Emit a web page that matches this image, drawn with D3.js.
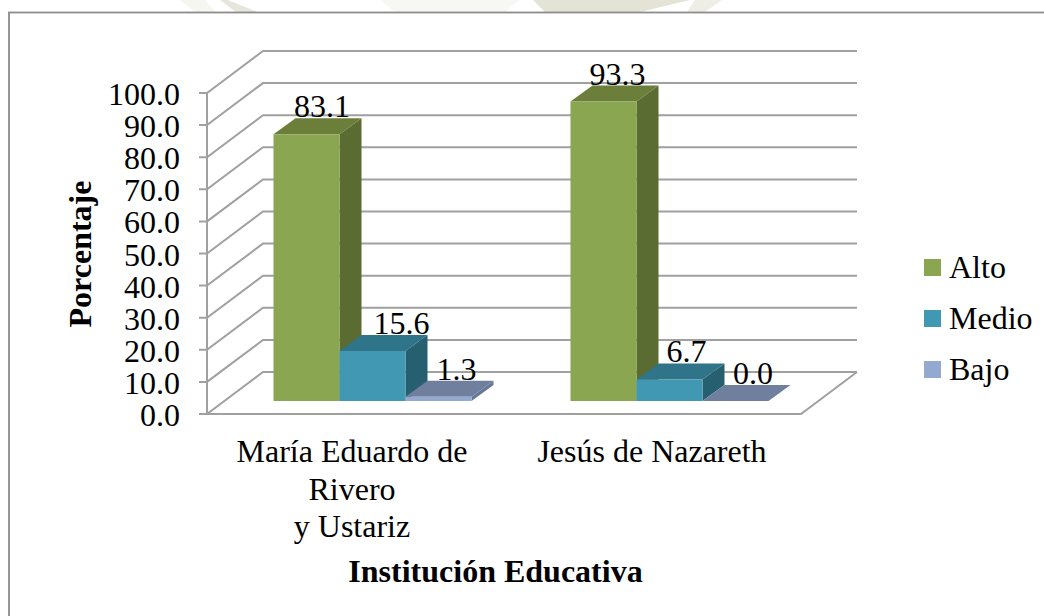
<!DOCTYPE html>
<html><head><meta charset="utf-8">
<script src="https://cdn.jsdelivr.net/npm/d3@7"></script>
<style>html,body{margin:0;padding:0;background:#fff}svg{display:block}text{font-family:"Liberation Serif",serif;fill:#000}</style>
</head><body><div id="c"></div>
<script>
const categories=[["María Eduardo de","Rivero","y Ustariz"],["Jesús de Nazareth"]];
const seriesNames=["Alto","Medio","Bajo"];
const alto=[83.1,93.3];
const medio=[15.6,6.7];
const bajo=[1.3,0.0];
const tickValues=[0,10,20,30,40,50,60,70,80,90,100];
const seriesValues=[alto,medio,bajo];
const front=["#8aa650","#4098b2","#94a9d0"];
const topC=["#6b7f3b","#2f7488","#707f9e"];
const side=["#5b6c32","#265f70","#66789a"];
const labelShift=[[15.5,29,18],[14,17,17.5]];
const catCenters=[352,652];

const W=1044,H=616,FS=32;
const svg=d3.select("#c").append("svg").attr("width",W).attr("height",H);

// faint watermark remnants above the chart frame
const wm=svg.append("g");
[["180,0 205,0 215,12 195,12","#f6f6f1"],["220,0 228,0 257,12 236,12","#e6e6dc"],
 ["380,0 520,0 505,12 395,12","#f7f7f3"],["533,0 690,0 640,12 545,12","#e4e4d6"],
 ["695,0 722,0 705,12 687,12","#eeeee6"]].forEach(p=>wm.append("polygon").attr("points",p[0]).attr("fill",p[1]));

svg.append("rect").attr("x",9).attr("y",12.5).attr("width",W+20).attr("height",H).attr("fill","#fff").attr("stroke","#8c8c8c").attr("stroke-width",1.8);

const y=d3.scaleLinear().domain([0,100]).range([414,93]);
const dx=56,dy=-42,gridStroke="#a0a0a0";
const g=svg.append("g").attr("fill","none").attr("stroke",gridStroke).attr("stroke-width",2);
tickValues.forEach(v=>{
  g.append("path").attr("d",d3.line()([[199,y(v)],[207,y(v)],[207+dx,y(v)+dy],[801+dx,y(v)+dy]]));
});
g.append("path").attr("d",d3.line()([[207,y(0)],[207,y(100)]]));
g.append("path").attr("d",d3.line()([[207,y(0)],[801,y(0)],[801+dx,y(0)+dy]]));

const x0=d3.scaleBand().domain(d3.range(categories.length)).range([224,818]).paddingInner(1/3).paddingOuter(1/6);
const x1=d3.scaleBand().domain(d3.range(seriesNames.length)).range([0,x0.bandwidth()]);
const base=401, ddx=22, ddy=-16;
const h=v=>y(0)-y(v);
const bars=svg.append("g");
const labels=[];
categories.forEach((c,ci)=>{
  seriesNames.forEach((s,si)=>{
    const v=seriesValues[si][ci];
    const l=x0(ci)+x1(si), r=l+x1.bandwidth(), t=base-h(v);
    const b=bars.append("g");
    const poly=(pts,f)=>b.append("polygon").attr("points",pts.map(p=>p.join(",")).join(" ")).attr("fill",f);
    poly([[r,base],[r+ddx,base+ddy],[r+ddx,t+ddy],[r,t]],side[si]);
    poly([[l,t],[r,t],[r+ddx,t+ddy],[l+ddx,t+ddy]],topC[si]);
    if(h(v)>0) poly([[l,base],[r,base],[r,t],[l,t]],front[si]);
    labels.push({v,x:l+x1.bandwidth()/2+labelShift[ci][si],y:t+ddy-1});
  });
});
svg.append("g").selectAll("text").data(labels).join("text")
  .attr("x",d=>d.x).attr("y",d=>d.y).attr("text-anchor","middle").attr("font-size",FS)
  .text(d=>d.v.toFixed(1));

svg.append("g").selectAll("text").data(tickValues).join("text")
  .attr("x",180).attr("y",d=>y(d)+12).attr("text-anchor","end").attr("font-size",FS)
  .text(d=>d.toFixed(1));

categories.forEach((c,ci)=>{
  c.forEach((t,i)=>svg.append("text").attr("x",catCenters[ci]).attr("y",462+i*37.5)
    .attr("text-anchor","middle").attr("font-size",FS).text(t));
});
svg.append("text").attr("x",495.5).attr("y",582).attr("text-anchor","middle").attr("font-size",FS).attr("font-weight","bold").text("Institución Educativa");
svg.append("text").attr("transform","translate(91,254) rotate(-90)").attr("text-anchor","middle").attr("font-size",FS).attr("font-weight","bold").text("Porcentaje");

seriesNames.forEach((s,i)=>{
  const yy=259+i*51;
  svg.append("rect").attr("x",924).attr("y",yy).attr("width",17).attr("height",17).attr("fill",front[i]);
  svg.append("text").attr("x",949).attr("y",yy+19).attr("font-size",FS).text(s);
});
</script></body></html>
